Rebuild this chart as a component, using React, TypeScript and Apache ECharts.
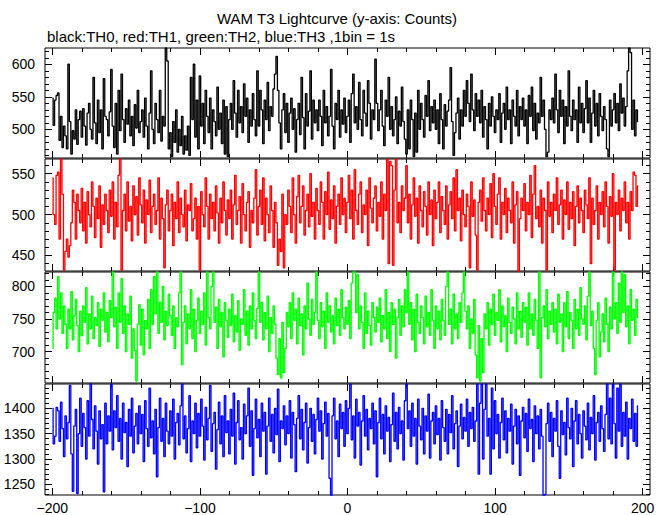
import React, { useEffect, useRef } from 'react';
import * as echarts from 'echarts';

const TITLE = 'WAM T3 Lightcurve (y-axis: Counts)';
const SUBTITLE = 'black:TH0, red:TH1, green:TH2, blue:TH3 ,1bin = 1s';

const X_START = -200;
const X_MIN = -205;
const X_MAX = 205;
const X_MAJOR = [-200, -100, 0, 100, 200];
const X_MINOR = [-180, -160, -140, -120, -80, -60, -40, -20, 20, 40, 60, 80, 120, 140, 160, 180];

const TH0 = [
  548, 506, 545, 552, 556, 483, 520, 472, 505, 490, 470, 600, 512, 462, 498, 485, 530, 477, 515, 528,
  488, 532, 505, 476, 525, 540, 500, 485, 580, 510, 478, 545, 495, 530, 470, 578, 520, 515, 490, 527,
  592, 505, 472, 540, 462, 560, 498, 585, 515, 480, 532, 508, 545, 490, 520, 475, 538, 502, 560, 495,
  512, 530, 488, 548, 505, 470, 525, 590, 500, 478, 540, 515, 495, 560, 482, 520, 505, 625, 605, 470,
  495, 458, 512, 480, 530, 465, 500, 475, 520, 462, 490, 468, 505, 460, 580, 515, 600, 488, 545, 470,
  582, 505, 540, 478, 560, 520, 495, 548, 470, 530, 512, 490, 565, 500, 525, 478, 545, 462, 535, 458,
  515, 540, 500, 575, 525, 488, 560, 510, 535, 495, 570, 520, 548, 480, 530, 505, 555, 515, 490, 590,
  505, 560, 530, 478, 545, 515, 572, 498, 535, 520, 562, 585, 612, 560, 510, 470, 530, 555, 495, 540,
  480, 525, 548, 500, 532, 465, 515, 540, 492, 580, 518, 470, 555, 505, 528, 590, 485, 545, 510, 530,
  498, 545, 520, 475, 560, 510, 535, 490, 520, 592, 505, 470, 540, 515, 560, 488, 530, 508, 548, 495,
  520, 545, 480, 555, 585, 510, 535, 500, 572, 515, 490, 560, 525, 505, 575, 540, 485, 530, 515, 608,
  540, 498, 530, 560, 505, 475, 545, 520, 580, 500, 535, 490, 515, 550, 478, 528, 505, 565, 512, 485,
  462, 530, 470, 545, 515, 458, 525, 465, 560, 500, 540, 515, 488, 552, 520, 575, 498, 535, 510, 545,
  500, 530, 478, 555, 515, 470, 538, 505, 528, 545, 595, 512, 460, 495, 525, 548, 485, 530, 505, 560,
  520, 575, 540, 512, 585, 530, 498, 555, 520, 545, 510, 560, 488, 535, 515, 470, 540, 505, 550, 520,
  495, 530, 515, 555, 480, 525, 540, 500, 565, 515, 530, 478, 545, 520, 505, 560, 490, 535, 515, 548,
  505, 530, 478, 552, 520, 565, 498, 540, 485, 525, 510, 580, 520, 545, 500, 458, 465, 530, 515, 548,
  510, 585, 530, 495, 560, 520, 545, 478, 535, 505, 590, 520, 498, 545, 515, 530, 480, 565, 510, 540,
  495, 532, 575, 510, 548, 480, 525, 560, 505, 540, 490, 555, 520, 498, 535, 515, 470, 458, 545, 505,
  530, 555, 510, 540, 498, 570, 525, 548, 505, 535, 590, 625, 618, 500, 545, 490, 530, 512,
];

const TH1 = [
  545, 500, 488, 548, 552, 470, 568, 525, 432, 455, 470, 448, 462, 490, 530, 515, 470, 525, 505, 490,
  532, 480, 515, 465, 528, 500, 485, 540, 510, 472, 520, 495, 535, 460, 512, 488, 525, 505, 478, 530,
  498, 540, 470, 515, 485, 548, 568, 432, 505, 525, 480, 540, 492, 510, 468, 535, 500, 522, 475, 545,
  512, 490, 530, 465, 518, 500, 542, 478, 510, 525, 488, 505, 545, 470, 520, 495, 435, 512, 530, 480,
  505, 525, 462, 515, 495, 540, 478, 520, 500, 485, 530, 468, 512, 505, 538, 480, 495, 520, 470, 510,
  432, 528, 500, 485, 545, 510, 470, 525, 495, 515, 480, 535, 502, 465, 520, 490, 540, 505, 475, 518,
  495, 530, 470, 512, 548, 488, 505, 522, 465, 538, 500, 480, 515, 528, 460, 505, 490, 520, 555, 475,
  510, 530, 488, 545, 468, 520, 500, 478, 535, 505, 460, 515, 490, 438, 470, 455, 525, 435, 500, 488,
  530, 510, 478, 545, 500, 465, 522, 548, 490, 510, 535, 475, 505, 525, 485, 550, 498, 515, 470, 532,
  505, 488, 540, 515, 470, 528, 500, 552, 482, 518, 495, 535, 465, 510, 525, 488, 545, 500, 520, 478,
  515, 548, 495, 530, 470, 555, 505, 488, 525, 540, 478, 512, 500, 530, 462, 545, 508, 490, 520, 535,
  480, 515, 498, 540, 470, 525, 505, 568, 440, 565, 560, 438, 530, 568, 490, 515, 478, 535, 505, 520,
  560, 490, 525, 470, 512, 545, 498, 520, 465, 535, 505, 485, 528, 510, 475, 540, 500, 518, 462, 530,
  495, 515, 540, 478, 522, 505, 488, 535, 470, 512, 528, 495, 545, 480, 555, 505, 520, 468, 530, 500,
  485, 525, 510, 435, 540, 498, 518, 475, 432, 515, 530, 492, 545, 505, 480, 520, 500, 538, 472, 550,
  510, 488, 525, 545, 470, 515, 500, 532, 478, 520, 505, 490, 540, 465, 512, 528, 430, 495, 520, 505,
  538, 480, 515, 500, 548, 472, 525, 560, 495, 510, 485, 530, 465, 520, 505, 432, 540, 498, 515, 478,
  525, 505, 545, 488, 512, 530, 470, 518, 500, 540, 482, 515, 495, 528, 462, 510, 535, 490, 520, 505,
  478, 530, 512, 495, 545, 440, 520, 488, 505, 535, 470, 515, 500, 528, 485, 540, 510, 465, 522, 498,
  550, 432, 515, 500, 530, 480, 520, 505, 540, 490, 515, 470, 528, 505, 552, 548, 510, 535,
];

const TH2 = [
  705, 760, 782, 735, 815, 750, 790, 728, 770, 742, 705, 765, 735, 792, 718, 755, 780, 740, 700, 762,
  725, 770, 745, 798, 712, 758, 735, 785, 720, 752, 740, 775, 708, 765, 748, 790, 730, 760, 715, 778,
  752, 822, 738, 768, 705, 790, 745, 812, 728, 770, 700, 758, 742, 785, 690, 735, 702, 655, 742, 772,
  710, 765, 695, 748, 735, 780, 705, 795, 742, 815, 758, 822, 728, 776, 745, 800, 718, 762, 740, 788,
  755, 725, 770, 705, 752, 738, 790, 822, 680, 745, 770, 712, 758, 735, 795, 720, 765, 700, 748, 782,
  728, 762, 742, 790, 710, 822, 752, 735, 800, 822, 745, 768, 705, 780, 738, 760, 692, 775, 748, 722,
  765, 740, 788, 715, 755, 730, 778, 702, 750, 742, 795, 725, 762, 710, 770, 735, 790, 748, 720, 766,
  822, 745, 775, 718, 760, 735, 785, 700, 752, 728, 770, 742, 690, 665, 720, 660, 745, 668, 705, 760,
  738, 775, 720, 790, 748, 765, 712, 782, 740, 758, 695, 770, 735, 805, 750, 725, 780, 742, 760, 822,
  748, 720, 775, 738, 762, 705, 790, 745, 770, 730, 755, 712, 782, 740, 765, 725, 795, 752, 735, 768,
  742, 778, 720, 805, 822, 822, 760, 818, 735, 770, 745, 705, 790, 728, 762, 740, 710, 775, 752, 730,
  768, 745, 782, 715, 755, 735, 795, 720, 760, 700, 775, 742, 765, 690, 752, 780, 725, 770, 738, 795,
  760, 822, 742, 775, 718, 765, 700, 788, 745, 728, 770, 752, 712, 785, 738, 760, 725, 795, 748, 705,
  770, 735, 762, 718, 780, 748, 725, 800, 822, 742, 765, 712, 788, 735, 758, 720, 775, 745, 790, 822,
  762, 735, 770, 705, 750, 728, 780, 695, 660, 740, 655, 720, 668, 758, 735, 775, 710, 765, 742, 788,
  725, 760, 748, 795, 715, 770, 738, 755, 700, 782, 745, 728, 768, 750, 712, 790, 735, 762, 722, 775,
  745, 768, 710, 790, 735, 758, 725, 780, 748, 705, 822, 660, 752, 770, 738, 795, 720, 762, 742, 775,
  730, 765, 712, 788, 745, 758, 700, 775, 738, 792, 720, 760, 748, 705, 780, 735, 765, 725, 798, 750,
  742, 770, 718, 785, 822, 740, 762, 705, 665, 748, 775, 692, 730, 758, 715, 782, 742, 700, 768, 735,
  822, 750, 775, 728, 805, 745, 822, 760, 818, 738, 770, 712, 795, 748, 765, 725, 780, 752,
];

const TH3 = [
  1400, 1330, 1345, 1402, 1395, 1335, 1412, 1360, 1305, 1385, 1340, 1372, 1445, 1310, 1236, 1365, 1398, 1232, 1350, 1420,
  1325, 1390, 1362, 1300, 1415, 1345, 1448, 1378, 1320, 1405, 1355, 1290, 1395, 1340, 1368, 1235, 1410, 1330, 1385, 1355,
  1448, 1318, 1395, 1362, 1425, 1335, 1380, 1300, 1410, 1352, 1372, 1285, 1398, 1345, 1420, 1312, 1365, 1390, 1330, 1405,
  1350, 1388, 1295, 1415, 1360, 1325, 1440, 1342, 1375, 1310, 1398, 1265, 1362, 1420, 1335, 1380, 1305, 1410, 1355, 1330,
  1395, 1345, 1418, 1300, 1372, 1390, 1328, 1405, 1448, 1340, 1385, 1312, 1360, 1425, 1295, 1375, 1350, 1410, 1322, 1390,
  1345, 1418, 1365, 1298, 1402, 1338, 1380, 1445, 1315, 1370, 1392, 1280, 1358, 1412, 1330, 1385, 1305, 1425, 1352, 1375,
  1310, 1398, 1345, 1430, 1290, 1372, 1415, 1338, 1362, 1300, 1408, 1350, 1385, 1440, 1325, 1395, 1268, 1360, 1418, 1342,
  1378, 1305, 1410, 1355, 1392, 1270, 1365, 1420, 1335, 1388, 1312, 1400, 1348, 1438, 1295, 1375, 1360, 1405, 1328, 1385,
  1350, 1415, 1302, 1392, 1368, 1275, 1380, 1425, 1340, 1398, 1318, 1372, 1410, 1292, 1362, 1400, 1335, 1388, 1310, 1378,
  1420, 1355, 1395, 1300, 1370, 1412, 1345, 1390, 1262, 1228, 1385, 1420, 1340, 1375, 1305, 1408, 1360, 1392, 1325, 1415,
  1350, 1400, 1448, 1338, 1385, 1302, 1418, 1365, 1392, 1288, 1375, 1425, 1345, 1398, 1318, 1380, 1360, 1410, 1330, 1395,
  1265, 1372, 1420, 1340, 1388, 1310, 1405, 1355, 1382, 1295, 1368, 1430, 1335, 1392, 1320, 1402, 1350, 1375, 1298, 1415,
  1448, 1360, 1395, 1325, 1410, 1345, 1380, 1290, 1418, 1365, 1338, 1400, 1310, 1385, 1355, 1428, 1302, 1375, 1392, 1330,
  1405, 1348, 1380, 1298, 1415, 1362, 1335, 1398, 1310, 1388, 1352, 1425, 1320, 1370, 1395, 1285, 1365, 1408, 1340, 1382,
  1355, 1418, 1325, 1392, 1360, 1402, 1335, 1375, 1448, 1270, 1410, 1448, 1300, 1398, 1448, 1345, 1380, 1270, 1440, 1320,
  1415, 1350, 1388, 1302, 1372, 1420, 1338, 1395, 1312, 1380, 1355, 1408, 1290, 1365, 1398, 1330, 1385, 1268, 1375, 1402,
  1342, 1390, 1315, 1418, 1360, 1378, 1295, 1405, 1350, 1385, 1320, 1398, 1345, 1228, 1230, 1370, 1410, 1335, 1392, 1305,
  1380, 1355, 1415, 1325, 1262, 1395, 1348, 1372, 1308, 1420, 1362, 1340, 1400, 1285, 1375, 1415, 1330, 1388, 1350, 1302,
  1395, 1365, 1338, 1410, 1318, 1382, 1350, 1425, 1298, 1372, 1392, 1335, 1405, 1360, 1315, 1388, 1448, 1340, 1420, 1330,
  1448, 1370, 1302, 1440, 1355, 1448, 1325, 1392, 1345, 1412, 1300, 1380, 1360, 1418, 1335, 1390, 1325, 1405,
];

const SERIES_DATA = [TH0, TH1, TH2, TH3];
const SERIES_NAMES = ['TH0', 'TH1', 'TH2', 'TH3'];
const SERIES_COLORS = ['#000000', '#ff0000', '#00ff00', '#0000ff'];

const Y_MIN = [456, 431, 652, 1229];
const Y_MAX = [625, 568, 822, 1448];
const Y_MAJOR = [
  [500, 550, 600],
  [450, 500, 550],
  [700, 750, 800],
  [1250, 1300, 1350, 1400],
];
const Y_MINOR_STEP = 10;

const GRID_TOPS = [48, 159, 272, 384];
const GRID_HEIGHTS = [110, 112, 111, 111];

const FONT = '"Liberation Sans", Arial, Helvetica, sans-serif';

function minorTicks(min: number, max: number, step: number, major: number[]) {
  const out: number[] = [];
  for (let v = Math.ceil(min / step) * step; v <= max; v += step) {
    if (!major.includes(v)) out.push(v);
  }
  return out;
}

function buildOption() {
  const grid: any[] = [];
  const xAxis: any[] = [];
  const yAxis: any[] = [];
  const series: any[] = [];
  const noLine = { show: false, onZero: false };
  const tickStyle = { color: '#000', width: 1 };

  for (let g = 0; g < 4; g++) {
    grid.push({
      left: 45,
      width: 605,
      top: GRID_TOPS[g],
      height: GRID_HEIGHTS[g],
      show: true,
      borderColor: '#000',
      borderWidth: 1,
      backgroundColor: 'transparent',
    });

    const xBase = {
      gridIndex: g,
      type: 'value',
      min: X_MIN,
      max: X_MAX,
      splitLine: { show: false },
      axisLine: noLine,
    };
    const xLabel = {
      show: g === 3,
      customValues: X_MAJOR,
      margin: 6,
      color: '#000',
      fontSize: 14,
      fontFamily: FONT,
      formatter: (v: number) => String(v).replace('-', '\u2212'),
    };
    xAxis.push({ ...xBase, position: 'bottom', axisTick: { show: true, inside: true, length: 7, customValues: X_MAJOR, lineStyle: tickStyle }, axisLabel: xLabel });
    xAxis.push({ ...xBase, position: 'bottom', axisTick: { show: true, inside: true, length: 4, customValues: X_MINOR, lineStyle: tickStyle }, axisLabel: { show: false } });
    xAxis.push({ ...xBase, position: 'top', axisTick: { show: true, inside: true, length: 7, customValues: X_MAJOR, lineStyle: tickStyle }, axisLabel: { show: false } });
    xAxis.push({ ...xBase, position: 'top', axisTick: { show: true, inside: true, length: 4, customValues: X_MINOR, lineStyle: tickStyle }, axisLabel: { show: false } });

    const yMinor = minorTicks(Y_MIN[g], Y_MAX[g], Y_MINOR_STEP, Y_MAJOR[g]);
    const yBase = {
      gridIndex: g,
      type: 'value',
      min: Y_MIN[g],
      max: Y_MAX[g],
      splitLine: { show: false },
      axisLine: noLine,
    };
    yAxis.push({
      ...yBase,
      position: 'left',
      axisTick: { show: true, inside: true, length: 7, customValues: Y_MAJOR[g], lineStyle: tickStyle },
      axisLabel: {
        show: true,
        customValues: Y_MAJOR[g],
        margin: 10,
        color: '#000',
        fontSize: 14,
        fontFamily: FONT,
        formatter: (v: number) => String(v),
      },
    });
    yAxis.push({ ...yBase, position: 'left', axisTick: { show: true, inside: true, length: 4, customValues: yMinor, lineStyle: tickStyle }, axisLabel: { show: false } });
    yAxis.push({ ...yBase, position: 'right', axisTick: { show: true, inside: true, length: 7, customValues: Y_MAJOR[g], lineStyle: tickStyle }, axisLabel: { show: false } });
    yAxis.push({ ...yBase, position: 'right', axisTick: { show: true, inside: true, length: 4, customValues: yMinor, lineStyle: tickStyle }, axisLabel: { show: false } });

    series.push({
      type: 'line',
      name: SERIES_NAMES[g],
      xAxisIndex: g * 4,
      yAxisIndex: g * 4,
      data: SERIES_DATA[g].map((v, i) => [X_START + i, v]),
      step: 'middle',
      showSymbol: false,
      symbol: 'none',
      clip: true,
      lineStyle: { color: SERIES_COLORS[g], width: 1.3 },
      itemStyle: { color: SERIES_COLORS[g] },
      silent: true,
    });
  }

  return {
    animation: false,
    backgroundColor: '#ffffff',
    grid,
    xAxis,
    yAxis,
    series,
    graphic: [
      {
        type: 'text',
        x: 337,
        y: 18,
        style: {
          text: TITLE,
          fill: '#000',
          font: `15px ${FONT}`,
          align: 'center',
          verticalAlign: 'middle',
        },
      },
      {
        type: 'text',
        x: 47,
        y: 36,
        style: {
          text: SUBTITLE,
          fill: '#000',
          font: `15px ${FONT}`,
          align: 'left',
          verticalAlign: 'middle',
        },
      },
    ],
  };
}

export default function App() {
  const ref = useRef<HTMLDivElement>(null);
  useEffect(() => {
    document.body.style.margin = '0';
    if (!ref.current) return;
    const chart = echarts.init(ref.current, null, { renderer: 'svg' });
    chart.setOption(buildOption() as any);
    return () => chart.dispose();
  }, []);
  return <div ref={ref} style={{ width: 669, height: 515, position: 'absolute', left: 0, top: 0 }} />;
}
